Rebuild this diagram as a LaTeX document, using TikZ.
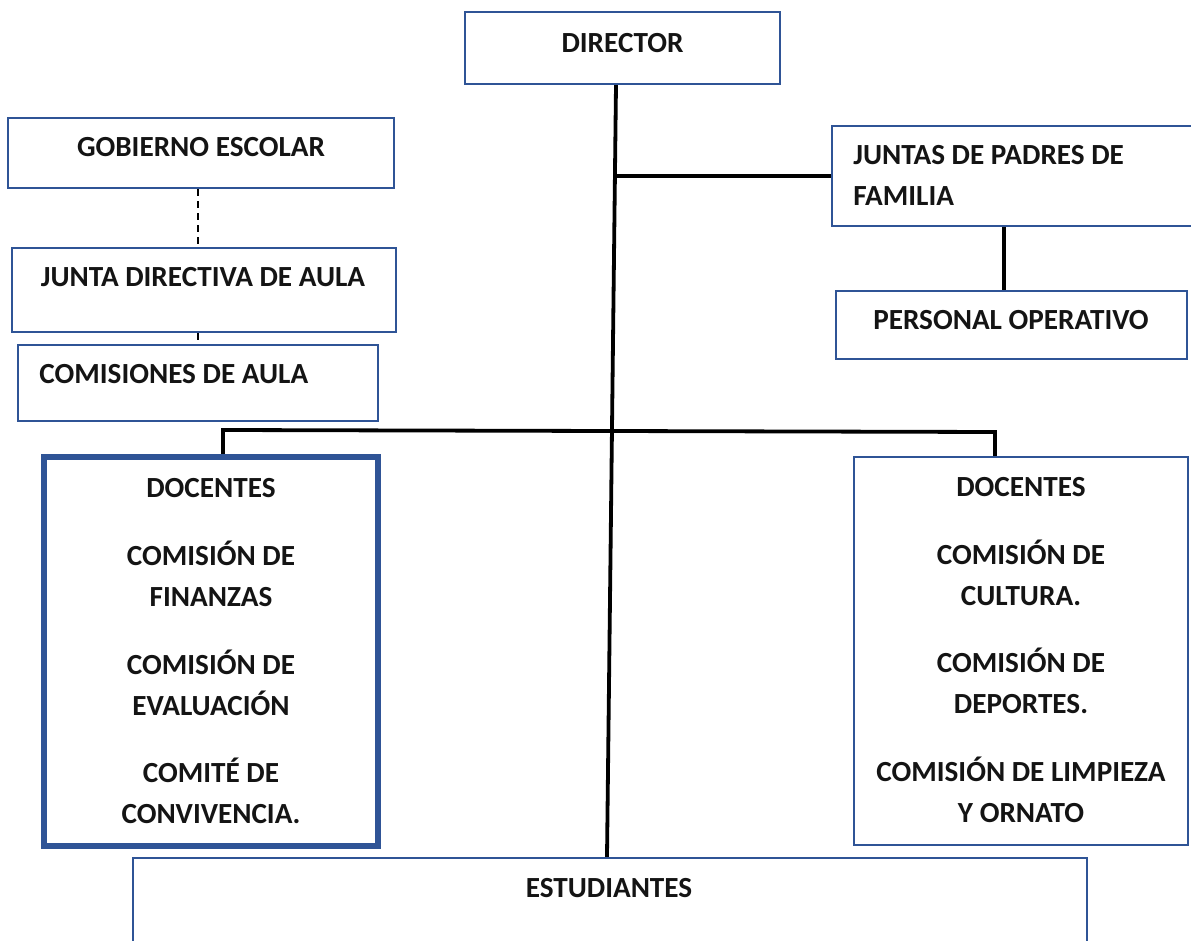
\documentclass[tikz,border=0pt]{standalone}
\usepackage{fontspec}
\setmainfont{Carlito}
\definecolor{boxblue}{RGB}{47,84,150}
\begin{document}
\begin{tikzpicture}[x=0.5pt,y=-0.5pt,
  box/.style={draw=boxblue,line width=1.2pt,fill=none,inner sep=0pt,minimum width=#1},
  thickbox/.style={draw=boxblue,line width=3pt,inner sep=0pt},
  conn/.style={draw=black,line width=1.9pt},
  dashconn/.style={draw=black,line width=0.9pt,dash pattern=on 3.5pt off 2.5pt},
  txt/.style={font=\fontsize{14.6}{20.5}\selectfont\bfseries,inner sep=0pt,text=black!92}]
\useasboundingbox (0,0) rectangle (1191,941);
% boxes
\node[box=157.5pt,minimum height=36pt] (dir) at (622.5,48) {};
\node[box=193pt,minimum height=35pt] (gob) at (201,153) {};
\node[box=192pt,minimum height=42pt] (jda) at (204,290) {};
\node[box=180pt,minimum height=38pt] (com) at (198,383) {};
\node[box=181.5pt,minimum height=50pt] (jp) at (1013.5,176) {};
\node[box=175.5pt,minimum height=34pt] (pers) at (1011.5,325) {};
\node[thickbox,minimum width=167pt,minimum height=194.5pt] (docl) at (211,651.5) {};
\node[box=167pt,minimum height=194pt] (docr) at (1021,651) {};
\node[box=477pt,minimum height=61pt] (est) at (610,919) {};
% texts
\node[txt,anchor=base] (tdir) at (622.5,53) {DIRECTOR};
\node[txt,anchor=base] (tgob) at (201,157) {GOBIERNO ESCOLAR};
\node[txt,anchor=base] (tjda) at (203,287) {JUNTA DIRECTIVA DE AULA};
\node[txt,anchor=base west] (tcom) at (39,384) {COMISIONES DE AULA};
\node[txt,anchor=base west,align=left] (tjp) at (853,206) {JUNTAS DE PADRES DE\\FAMILIA};
\node[txt,anchor=base] (tpers) at (1011,330) {PERSONAL OPERATIVO};
\node[txt,anchor=base] (test) at (609,898) {ESTUDIANTES};
\node[txt,align=center] (tdocl) at (211,651.5) {DOCENTES\\[13.5pt]COMISIÓN DE\\FINANZAS\\[13.5pt]COMISIÓN DE\\EVALUACIÓN\\[13pt]COMITÉ DE\\CONVIVENCIA.};
\node[txt,align=center] (tdocr) at (1021,650) {DOCENTES\\[13.5pt]COMISIÓN DE\\CULTURA.\\[13pt]COMISIÓN DE\\DEPORTES.\\[13.5pt]COMISIÓN DE LIMPIEZA\\Y ORNATO};
% connectors
\coordinate (j1) at (615,176);
\coordinate (bl) at (223,430);
\coordinate (br) at (995,432);
\draw[conn] ([xshift=-3.25pt]dir.south) -- ([xshift=-1.5pt]est.north);
\draw[conn] (j1) -- (jp.west);
\draw[conn] ([xshift=6pt]docl.north) -- (bl) -- (br) -- ([xshift=-13pt]docr.north);
\draw[conn] ([xshift=-4.75pt]jp.south) -- ([xshift=-3.75pt]pers.north);
\draw[dashconn] ([xshift=-1.5pt]gob.south) -- ([xshift=-3pt]jda.north);
\draw[dashconn] ([xshift=-3pt]jda.south) -- (com.north);
\end{tikzpicture}
\end{document}
